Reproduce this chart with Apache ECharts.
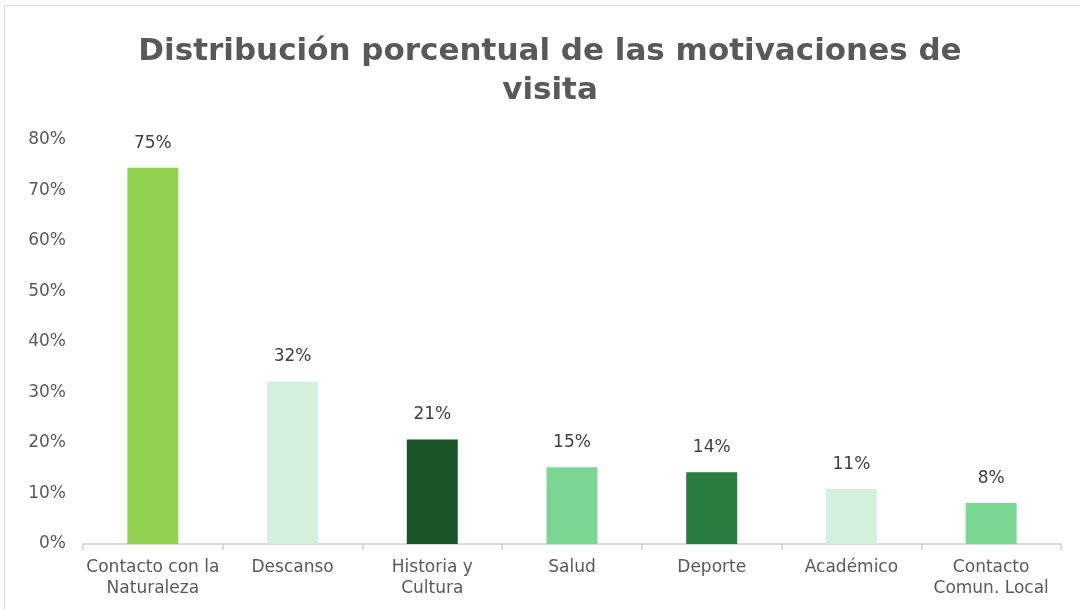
<!DOCTYPE html>
<html><head><meta charset="utf-8">
<script src="https://cdn.jsdelivr.net/npm/echarts@6/dist/echarts.min.js"></script>
<style>html,body{margin:0;padding:0;background:#fff}#c{width:1080px;height:610px}</style>
</head><body><div id="c"></div>
<script>
const categories = ["Contacto con la\nNaturaleza","Descanso","Historia y\nCultura","Salud","Deporte","Académico","Contacto\nComun. Local"];
const values = [74.5, 32.2, 20.7, 15.2, 14.2, 10.9, 8.1];
const barColors = ["#92D050","#D4F0DC","#1B5429","#7CD693","#277D40","#D4F0DC","#7CD693"];
const yTicks = [0,10,20,30,40,50,60,70,80];

const chart = echarts.init(document.getElementById('c'), null, {renderer:'canvas'});
const font = "'DejaVu Sans', Verdana, sans-serif";
chart.setOption({
  animation:false,
  graphic:[{type:'rect',shape:{x:4.5,y:5.5,width:1200,height:800},style:{fill:'none',stroke:'#d9d9d9',lineWidth:1},silent:true}],
  title:{text:"Distribución porcentual de las motivaciones de\nvisita",left:545,top:27,textAlign:'center',
    textStyle:{fontFamily:font,fontWeight:'bold',fontSize:31,color:'#595959',lineHeight:39}},
  grid:{left:83,right:19,top:140,bottom:66},
  xAxis:{type:'category',data:categories,
    axisLine:{lineStyle:{color:'#d9d9d9',width:2}},
    axisTick:{show:true,length:6,lineStyle:{color:'#d9d9d9',width:2}},
    axisLabel:{fontFamily:font,fontSize:17,color:'#595959',lineHeight:21,margin:13,interval:0}},
  yAxis:{type:'value',min:yTicks[0],max:yTicks[yTicks.length-1],interval:10,
    axisLine:{show:false},axisTick:{show:false},splitLine:{show:false},
    axisLabel:{fontFamily:font,fontSize:17,color:'#595959',margin:17,formatter:v=>v+'%'}},
  series:[{type:'bar',barWidth:'36.5%',
    data:values.map((v,i)=>({value:v,itemStyle:{color:barColors[i]}})),
    label:{show:true,position:'top',distance:16,fontFamily:font,fontSize:17,color:'#404040',
      formatter:p=>Math.round(p.value)+'%'}}]
});
</script></body></html>
